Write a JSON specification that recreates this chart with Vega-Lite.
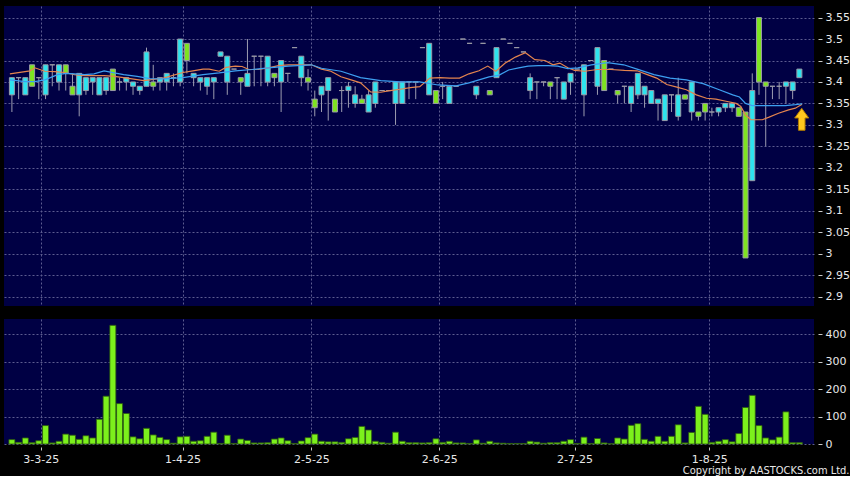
{
  "$schema": "https://vega.github.io/schema/vega-lite/v6.json",
  "background": "#000000",
  "padding": {"left": 4, "top": 6, "right": 0, "bottom": 0},
  "config": {
    "view": {"fill": "#000044", "stroke": null},
    "axis": {"labelColor": "#e8e8e8", "labelFont": "DejaVu Sans", "labelFontSize": 11, "gridColor": "#5c5c90", "gridDash": [2, 2], "gridWidth": 1, "domain": false, "tickColor": "#c8c8c8", "title": null, "labelOverlap": false},
    "concat": {"spacing": 13}
  },
  "title": {"text": "Copyright by AASTOCKS.com Ltd.", "orient": "bottom", "anchor": "end", "frame": "bounds", "color": "#e8e8e8", "fontSize": 11, "fontWeight": "normal", "font": "DejaVu Sans Condensed, Liberation Sans Narrow, DejaVu Sans", "offset": 1},
  "datasets": {
    "k": [
      {"i":0,"o":3.37,"h":3.41,"l":3.33,"c":3.41,"v":16},
      {"i":1,"o":3.41,"h":3.41,"l":3.36,"c":3.41,"v":6},
      {"i":2,"o":3.37,"h":3.41,"l":3.37,"c":3.41,"v":22},
      {"i":3,"o":3.44,"h":3.44,"l":3.39,"c":3.39,"v":5},
      {"i":4,"o":3.41,"h":3.41,"l":3.36,"c":3.41,"v":12},
      {"i":5,"o":3.37,"h":3.44,"l":3.36,"c":3.44,"v":67},
      {"i":6,"o":3.44,"h":3.44,"l":3.39,"c":3.44,"v":4},
      {"i":7,"o":3.40,"h":3.44,"l":3.38,"c":3.44,"v":10},
      {"i":8,"o":3.44,"h":3.44,"l":3.38,"c":3.42,"v":36},
      {"i":9,"o":3.39,"h":3.42,"l":3.37,"c":3.37,"v":32},
      {"i":10,"o":3.37,"h":3.42,"l":3.32,"c":3.42,"v":17},
      {"i":11,"o":3.38,"h":3.41,"l":3.37,"c":3.41,"v":30},
      {"i":12,"o":3.40,"h":3.41,"l":3.37,"c":3.41,"v":22},
      {"i":13,"o":3.37,"h":3.41,"l":3.37,"c":3.41,"v":90},
      {"i":14,"o":3.38,"h":3.41,"l":3.37,"c":3.41,"v":174},
      {"i":15,"o":3.43,"h":3.43,"l":3.38,"c":3.38,"v":432},
      {"i":16,"o":3.40,"h":3.41,"l":3.38,"c":3.40,"v":147},
      {"i":17,"o":3.40,"h":3.41,"l":3.38,"c":3.41,"v":111},
      {"i":18,"o":3.39,"h":3.40,"l":3.37,"c":3.40,"v":26},
      {"i":19,"o":3.38,"h":3.39,"l":3.37,"c":3.39,"v":19},
      {"i":20,"o":3.39,"h":3.48,"l":3.39,"c":3.47,"v":57},
      {"i":21,"o":3.40,"h":3.44,"l":3.38,"c":3.39,"v":33},
      {"i":22,"o":3.40,"h":3.41,"l":3.38,"c":3.41,"v":24},
      {"i":23,"o":3.40,"h":3.42,"l":3.38,"c":3.42,"v":16},
      {"i":24,"o":3.41,"h":3.42,"l":3.39,"c":3.41,"v":3},
      {"i":25,"o":3.40,"h":3.50,"l":3.39,"c":3.50,"v":26},
      {"i":26,"o":3.49,"h":3.49,"l":3.42,"c":3.45,"v":28},
      {"i":27,"o":3.41,"h":3.42,"l":3.39,"c":3.42,"v":10},
      {"i":28,"o":3.40,"h":3.41,"l":3.38,"c":3.41,"v":12},
      {"i":29,"o":3.39,"h":3.41,"l":3.37,"c":3.41,"v":28},
      {"i":30,"o":3.40,"h":3.41,"l":3.36,"c":3.41,"v":43},
      {"i":31,"o":3.46,"h":3.47,"l":3.46,"c":3.47,"v":2},
      {"i":32,"o":3.40,"h":3.46,"l":3.37,"c":3.46,"v":32},
      {"i":33,"o":3.43,"h":3.43,"l":3.43,"c":3.43,"v":2},
      {"i":34,"o":3.41,"h":3.41,"l":3.37,"c":3.40,"v":18},
      {"i":35,"o":3.39,"h":3.50,"l":3.39,"c":3.42,"v":13},
      {"i":36,"o":3.46,"h":3.46,"l":3.39,"c":3.46,"v":4},
      {"i":37,"o":3.46,"h":3.46,"l":3.39,"c":3.46,"v":4},
      {"i":38,"o":3.40,"h":3.46,"l":3.39,"c":3.46,"v":5},
      {"i":39,"o":3.42,"h":3.42,"l":3.39,"c":3.41,"v":18},
      {"i":40,"o":3.40,"h":3.45,"l":3.33,"c":3.45,"v":22},
      {"i":41,"o":3.42,"h":3.42,"l":3.40,"c":3.42,"v":12},
      {"i":42,"o":3.48,"h":3.48,"l":3.48,"c":3.48,"v":2},
      {"i":43,"o":3.41,"h":3.46,"l":3.39,"c":3.46,"v":11},
      {"i":44,"o":3.41,"h":3.43,"l":3.38,"c":3.40,"v":23},
      {"i":45,"o":3.36,"h":3.38,"l":3.32,"c":3.34,"v":36},
      {"i":46,"o":3.37,"h":3.39,"l":3.33,"c":3.39,"v":10},
      {"i":47,"o":3.38,"h":3.41,"l":3.31,"c":3.41,"v":8},
      {"i":48,"o":3.36,"h":3.36,"l":3.33,"c":3.33,"v":8},
      {"i":49,"o":3.38,"h":3.39,"l":3.33,"c":3.38,"v":6},
      {"i":50,"o":3.38,"h":3.40,"l":3.34,"c":3.39,"v":19},
      {"i":51,"o":3.35,"h":3.39,"l":3.34,"c":3.37,"v":24},
      {"i":52,"o":3.36,"h":3.37,"l":3.35,"c":3.35,"v":64},
      {"i":53,"o":3.33,"h":3.38,"l":3.33,"c":3.37,"v":51},
      {"i":54,"o":3.35,"h":3.40,"l":3.34,"c":3.40,"v":10},
      {"i":55,"o":3.38,"h":3.38,"l":3.38,"c":3.38,"v":6},
      {"i":56,"o":3.38,"h":3.38,"l":3.38,"c":3.38,"v":3},
      {"i":57,"o":3.35,"h":3.40,"l":3.30,"c":3.40,"v":43},
      {"i":58,"o":3.35,"h":3.40,"l":3.35,"c":3.40,"v":10},
      {"i":59,"o":3.40,"h":3.40,"l":3.36,"c":3.40,"v":5},
      {"i":60,"o":3.40,"h":3.40,"l":3.36,"c":3.40,"v":5},
      {"i":61,"o":3.48,"h":3.48,"l":3.48,"c":3.48,"v":4},
      {"i":62,"o":3.37,"h":3.49,"l":3.37,"c":3.49,"v":5},
      {"i":63,"o":3.38,"h":3.38,"l":3.35,"c":3.35,"v":19},
      {"i":64,"o":3.39,"h":3.40,"l":3.36,"c":3.39,"v":6},
      {"i":65,"o":3.35,"h":3.39,"l":3.35,"c":3.39,"v":10},
      {"i":66,"o":3.39,"h":3.39,"l":3.39,"c":3.39,"v":4},
      {"i":67,"o":3.50,"h":3.50,"l":3.50,"c":3.50,"v":4},
      {"i":68,"o":3.49,"h":3.49,"l":3.49,"c":3.49,"v":2},
      {"i":69,"o":3.37,"h":3.39,"l":3.36,"c":3.39,"v":15},
      {"i":70,"o":3.49,"h":3.49,"l":3.49,"c":3.49,"v":3},
      {"i":71,"o":3.38,"h":3.38,"l":3.37,"c":3.37,"v":10},
      {"i":72,"o":3.41,"h":3.48,"l":3.41,"c":3.48,"v":4},
      {"i":73,"o":3.50,"h":3.50,"l":3.50,"c":3.50,"v":3},
      {"i":74,"o":3.49,"h":3.49,"l":3.49,"c":3.49,"v":2},
      {"i":75,"o":3.48,"h":3.48,"l":3.48,"c":3.48,"v":2},
      {"i":76,"o":3.47,"h":3.47,"l":3.47,"c":3.47,"v":2},
      {"i":77,"o":3.38,"h":3.42,"l":3.36,"c":3.41,"v":10},
      {"i":78,"o":3.40,"h":3.40,"l":3.36,"c":3.40,"v":7},
      {"i":79,"o":3.40,"h":3.40,"l":3.39,"c":3.40,"v":3},
      {"i":80,"o":3.40,"h":3.40,"l":3.36,"c":3.39,"v":5},
      {"i":81,"o":3.41,"h":3.41,"l":3.36,"c":3.41,"v":5},
      {"i":82,"o":3.36,"h":3.40,"l":3.36,"c":3.40,"v":10},
      {"i":83,"o":3.40,"h":3.42,"l":3.37,"c":3.42,"v":16},
      {"i":84,"o":3.43,"h":3.43,"l":3.43,"c":3.43,"v":2},
      {"i":85,"o":3.37,"h":3.44,"l":3.32,"c":3.44,"v":25},
      {"i":86,"o":3.45,"h":3.45,"l":3.45,"c":3.45,"v":2},
      {"i":87,"o":3.39,"h":3.48,"l":3.37,"c":3.48,"v":20},
      {"i":88,"o":3.45,"h":3.45,"l":3.38,"c":3.38,"v":4},
      {"i":89,"o":3.43,"h":3.43,"l":3.43,"c":3.43,"v":1},
      {"i":90,"o":3.38,"h":3.38,"l":3.35,"c":3.37,"v":22},
      {"i":91,"o":3.39,"h":3.39,"l":3.35,"c":3.39,"v":18},
      {"i":92,"o":3.35,"h":3.39,"l":3.33,"c":3.39,"v":68},
      {"i":93,"o":3.37,"h":3.42,"l":3.36,"c":3.42,"v":74},
      {"i":94,"o":3.37,"h":3.39,"l":3.34,"c":3.39,"v":17},
      {"i":95,"o":3.35,"h":3.38,"l":3.35,"c":3.38,"v":10},
      {"i":96,"o":3.35,"h":3.36,"l":3.31,"c":3.36,"v":28},
      {"i":97,"o":3.31,"h":3.37,"l":3.31,"c":3.37,"v":10},
      {"i":98,"o":3.37,"h":3.37,"l":3.33,"c":3.37,"v":28},
      {"i":99,"o":3.32,"h":3.41,"l":3.31,"c":3.37,"v":70},
      {"i":100,"o":3.37,"h":3.37,"l":3.36,"c":3.36,"v":4},
      {"i":101,"o":3.33,"h":3.40,"l":3.31,"c":3.40,"v":42},
      {"i":102,"o":3.33,"h":3.33,"l":3.31,"c":3.32,"v":137},
      {"i":103,"o":3.35,"h":3.35,"l":3.31,"c":3.33,"v":108},
      {"i":104,"o":3.33,"h":3.34,"l":3.32,"c":3.33,"v":6},
      {"i":105,"o":3.33,"h":3.34,"l":3.32,"c":3.34,"v":10},
      {"i":106,"o":3.34,"h":3.35,"l":3.33,"c":3.35,"v":16},
      {"i":107,"o":3.34,"h":3.35,"l":3.33,"c":3.35,"v":8},
      {"i":108,"o":3.34,"h":3.34,"l":3.32,"c":3.32,"v":38},
      {"i":109,"o":3.33,"h":3.33,"l":2.99,"c":2.99,"v":133},
      {"i":110,"o":3.17,"h":3.42,"l":3.17,"c":3.38,"v":177},
      {"i":111,"o":3.55,"h":3.55,"l":3.37,"c":3.40,"v":67},
      {"i":112,"o":3.40,"h":3.40,"l":3.25,"c":3.39,"v":22},
      {"i":113,"o":3.39,"h":3.39,"l":3.36,"c":3.39,"v":15},
      {"i":114,"o":3.39,"h":3.40,"l":3.36,"c":3.39,"v":25},
      {"i":115,"o":3.39,"h":3.40,"l":3.35,"c":3.40,"v":117},
      {"i":116,"o":3.38,"h":3.40,"l":3.36,"c":3.40,"v":5},
      {"i":117,"o":3.41,"h":3.43,"l":3.41,"c":3.43,"v":5}
    ],
    "ma": [
      {"i":-0.3,"p":3.419,"s":"a"},{"i":2.7,"p":3.426,"s":"a"},{"i":3.4,"p":3.433,"s":"a"},{"i":4.9,"p":3.425,"s":"a"},{"i":6.4,"p":3.424,"s":"a"},{"i":7.8,"p":3.422,"s":"a"},{"i":9.3,"p":3.417,"s":"a"},{"i":10.8,"p":3.415,"s":"a"},{"i":13.7,"p":3.415,"s":"a"},{"i":15.2,"p":3.413,"s":"a"},{"i":16.6,"p":3.41,"s":"a"},{"i":19.6,"p":3.403,"s":"a"},{"i":21.0,"p":3.406,"s":"a"},{"i":22.5,"p":3.409,"s":"a"},{"i":25.4,"p":3.422,"s":"a"},{"i":26.9,"p":3.426,"s":"a"},{"i":28.4,"p":3.43,"s":"a"},{"i":29.3,"p":3.43,"s":"a"},{"i":30.8,"p":3.425,"s":"a"},{"i":31.8,"p":3.434,"s":"a"},{"i":33.2,"p":3.437,"s":"a"},{"i":34.2,"p":3.436,"s":"a"},{"i":35.2,"p":3.429,"s":"a"},{"i":36.6,"p":3.429,"s":"a"},{"i":38.1,"p":3.433,"s":"a"},{"i":39.6,"p":3.438,"s":"a"},{"i":41.1,"p":3.44,"s":"a"},{"i":43.0,"p":3.44,"s":"a"},{"i":44.5,"p":3.44,"s":"a"},{"i":46.0,"p":3.43,"s":"a"},{"i":47.4,"p":3.425,"s":"a"},{"i":48.9,"p":3.412,"s":"a"},{"i":50.4,"p":3.405,"s":"a"},{"i":51.8,"p":3.398,"s":"a"},{"i":53.3,"p":3.377,"s":"a"},{"i":54.8,"p":3.376,"s":"a"},{"i":56.2,"p":3.38,"s":"a"},{"i":57.7,"p":3.383,"s":"a"},{"i":59.2,"p":3.387,"s":"a"},{"i":60.6,"p":3.389,"s":"a"},{"i":62.1,"p":3.409,"s":"a"},{"i":63.6,"p":3.41,"s":"a"},{"i":65.0,"p":3.409,"s":"a"},{"i":66.5,"p":3.409,"s":"a"},{"i":67.9,"p":3.419,"s":"a"},{"i":69.4,"p":3.426,"s":"a"},{"i":70.7,"p":3.437,"s":"a"},{"i":71.9,"p":3.425,"s":"a"},{"i":73.3,"p":3.444,"s":"a"},{"i":74.8,"p":3.458,"s":"a"},{"i":76.3,"p":3.468,"s":"a"},{"i":77.7,"p":3.452,"s":"a"},{"i":79.2,"p":3.45,"s":"a"},{"i":80.4,"p":3.44,"s":"a"},{"i":81.4,"p":3.444,"s":"a"},{"i":82.6,"p":3.433,"s":"a"},{"i":83.6,"p":3.427,"s":"a"},{"i":85.1,"p":3.425,"s":"a"},{"i":87.0,"p":3.429,"s":"a"},{"i":89.0,"p":3.429,"s":"a"},{"i":91.0,"p":3.427,"s":"a"},{"i":92.9,"p":3.426,"s":"a"},{"i":94.4,"p":3.417,"s":"a"},{"i":95.8,"p":3.409,"s":"a"},{"i":97.3,"p":3.394,"s":"a"},{"i":98.8,"p":3.388,"s":"a"},{"i":100.2,"p":3.382,"s":"a"},{"i":101.7,"p":3.37,"s":"a"},{"i":103.2,"p":3.362,"s":"a"},{"i":104.6,"p":3.36,"s":"a"},{"i":106.1,"p":3.355,"s":"a"},{"i":107.6,"p":3.35,"s":"a"},{"i":108.3,"p":3.343,"s":"a"},{"i":109.0,"p":3.323,"s":"a"},{"i":109.8,"p":3.312,"s":"a"},{"i":111.5,"p":3.312,"s":"a"},{"i":112.5,"p":3.318,"s":"a"},{"i":113.9,"p":3.327,"s":"a"},{"i":115.4,"p":3.335,"s":"a"},{"i":116.4,"p":3.339,"s":"a"},{"i":117.4,"p":3.348,"s":"a"},
      {"i":-0.3,"p":3.405,"s":"b"},{"i":2.0,"p":3.401,"s":"b"},{"i":3.4,"p":3.401,"s":"b"},{"i":4.9,"p":3.405,"s":"b"},{"i":6.8,"p":3.417,"s":"b"},{"i":8.1,"p":3.42,"s":"b"},{"i":9.3,"p":3.419,"s":"b"},{"i":10.8,"p":3.417,"s":"b"},{"i":12.2,"p":3.419,"s":"b"},{"i":13.7,"p":3.426,"s":"b"},{"i":15.2,"p":3.421,"s":"b"},{"i":16.6,"p":3.417,"s":"b"},{"i":18.6,"p":3.413,"s":"b"},{"i":20.5,"p":3.408,"s":"b"},{"i":22.5,"p":3.407,"s":"b"},{"i":25.4,"p":3.41,"s":"b"},{"i":28.4,"p":3.417,"s":"b"},{"i":30.8,"p":3.421,"s":"b"},{"i":33.2,"p":3.426,"s":"b"},{"i":35.7,"p":3.429,"s":"b"},{"i":38.1,"p":3.433,"s":"b"},{"i":41.1,"p":3.437,"s":"b"},{"i":44.5,"p":3.44,"s":"b"},{"i":46.0,"p":3.432,"s":"b"},{"i":48.9,"p":3.425,"s":"b"},{"i":51.8,"p":3.41,"s":"b"},{"i":54.8,"p":3.403,"s":"b"},{"i":57.7,"p":3.40,"s":"b"},{"i":60.6,"p":3.40,"s":"b"},{"i":63.3,"p":3.393,"s":"b"},{"i":66.0,"p":3.391,"s":"b"},{"i":67.9,"p":3.398,"s":"b"},{"i":69.4,"p":3.405,"s":"b"},{"i":70.9,"p":3.412,"s":"b"},{"i":72.4,"p":3.416,"s":"b"},{"i":73.8,"p":3.428,"s":"b"},{"i":75.3,"p":3.433,"s":"b"},{"i":76.7,"p":3.437,"s":"b"},{"i":78.2,"p":3.438,"s":"b"},{"i":79.7,"p":3.438,"s":"b"},{"i":81.1,"p":3.437,"s":"b"},{"i":82.6,"p":3.431,"s":"b"},{"i":84.1,"p":3.433,"s":"b"},{"i":86.1,"p":3.44,"s":"b"},{"i":88.5,"p":3.445,"s":"b"},{"i":90.9,"p":3.44,"s":"b"},{"i":92.9,"p":3.43,"s":"b"},{"i":95.4,"p":3.417,"s":"b"},{"i":97.8,"p":3.409,"s":"b"},{"i":100.2,"p":3.405,"s":"b"},{"i":102.7,"p":3.396,"s":"b"},{"i":105.1,"p":3.382,"s":"b"},{"i":107.1,"p":3.37,"s":"b"},{"i":108.1,"p":3.365,"s":"b"},{"i":109.0,"p":3.35,"s":"b"},{"i":110.0,"p":3.345,"s":"b"},{"i":112.5,"p":3.345,"s":"b"},{"i":114.9,"p":3.345,"s":"b"},{"i":116.4,"p":3.347,"s":"b"},{"i":117.4,"p":3.349,"s":"b"}
    ],
    "marker": [{"i": 117.35, "p": 3.313}]
  },
  "vconcat": [
    {
      "width": 810,
      "height": 300,
      "layer": [
        {
          "data": {"name": "k"},
          "mark": {"type": "rule", "color": "#9c9cb0", "strokeWidth": 1, "clip": true},
          "encoding": {
            "x": {"field": "i", "type": "quantitative", "scale": {"domain": [-0.43, 118.43], "nice": false, "zero": false},
                  "axis": {"orient": "bottom", "grid": true, "labels": false, "ticks": false, "values": [4.3, 25.35, 44.5, 63.5, 83.6, 103.6]}},
            "y": {"field": "l", "type": "quantitative", "scale": {"domain": [2.878, 3.577], "nice": false, "zero": false},
                  "axis": {"orient": "right", "values": [2.9, 2.95, 3, 3.05, 3.1, 3.15, 3.2, 3.25, 3.3, 3.35, 3.4, 3.45, 3.5, 3.55], "labelExpr": "format(datum.value, '.2~f')", "offset": 4, "tickSize": 4, "labelPadding": 3, "grid": true, "labelOverlap": false, "labelSeparation": 0}},
            "y2": {"field": "h"}
          }
        },
        {
          "data": {"name": "k"},
          "mark": {"type": "bar", "width": 5, "stroke": "#9a9aa6", "strokeWidth": 1, "clip": true},
          "encoding": {
            "x": {"field": "i", "type": "quantitative", "axis": {"orient": "bottom", "grid": true, "labels": false, "ticks": false, "values": [4.3, 25.35, 44.5, 63.5, 83.6, 103.6]}},
            "y": {"field": "o", "type": "quantitative",
                  "axis": {"orient": "right", "values": [2.9, 2.95, 3, 3.05, 3.1, 3.15, 3.2, 3.25, 3.3, 3.35, 3.4, 3.45, 3.5, 3.55], "labelExpr": "format(datum.value, '.2~f')", "offset": 4, "tickSize": 4, "labelPadding": 3, "grid": true, "labelOverlap": false, "labelSeparation": 0}},
            "y2": {"field": "c"},
            "fill": {"condition": [{"test": "datum.c > datum.o", "value": "#2ee3ee"}, {"test": "datum.c < datum.o", "value": "#7ee321"}], "value": "#9a9aa6"}
          }
        },
        {
          "data": {"name": "ma"},
          "mark": {"type": "line", "strokeWidth": 1.2, "clip": true, "interpolate": "linear"},
          "encoding": {
            "x": {"field": "i", "type": "quantitative", "axis": {"orient": "bottom", "grid": true, "labels": false, "ticks": false, "values": [4.3, 25.35, 44.5, 63.5, 83.6, 103.6]}},
            "y": {"field": "p", "type": "quantitative",
                  "axis": {"orient": "right", "values": [2.9, 2.95, 3, 3.05, 3.1, 3.15, 3.2, 3.25, 3.3, 3.35, 3.4, 3.45, 3.5, 3.55], "labelExpr": "format(datum.value, '.2~f')", "offset": 4, "tickSize": 4, "labelPadding": 3, "grid": true, "labelOverlap": false, "labelSeparation": 0}},
            "color": {"field": "s", "type": "nominal", "scale": {"domain": ["a", "b"], "range": ["#e4844e", "#3d9ff0"]}, "legend": null}
          }
        },
        {
          "data": {"name": "marker"},
          "mark": {"type": "point", "shape": "M0,-1L0.64,-0.12L0.3,-0.12L0.3,1L-0.3,1L-0.3,-0.12L-0.64,-0.12Z", "size": 484, "filled": true, "fill": "#ffc81e", "stroke": "#b07a00", "strokeWidth": 1, "opacity": 1},
          "encoding": {
            "x": {"field": "i", "type": "quantitative", "axis": {"orient": "bottom", "grid": true, "labels": false, "ticks": false, "values": [4.3, 25.35, 44.5, 63.5, 83.6, 103.6]}},
            "y": {"field": "p", "type": "quantitative",
                  "axis": {"orient": "right", "values": [2.9, 2.95, 3, 3.05, 3.1, 3.15, 3.2, 3.25, 3.3, 3.35, 3.4, 3.45, 3.5, 3.55], "labelExpr": "format(datum.value, '.2~f')", "offset": 4, "tickSize": 4, "labelPadding": 3, "grid": true, "labelOverlap": false, "labelSeparation": 0}}
          }
        }
      ]
    },
    {
      "width": 810,
      "height": 125,
      "data": {"name": "k"},
      "mark": {"type": "bar", "width": 6, "fill": "#7cf01c", "stroke": "#2d5a10", "strokeWidth": 0.8},
      "encoding": {
        "x": {"field": "i", "type": "quantitative", "scale": {"domain": [-0.43, 118.43], "nice": false, "zero": false},
              "axis": {"orient": "bottom", "grid": true, "values": [4.3, 25.35, 44.5, 63.5, 83.6, 103.6], "offset": 3, "tickSize": 3, "labelPadding": 3, "labelFlush": false, "labelOverlap": false,
                       "labelExpr": "datum.value < 10 ? '3-3-25' : datum.value < 30 ? '1-4-25' : datum.value < 50 ? '2-5-25' : datum.value < 70 ? '2-6-25' : datum.value < 90 ? '2-7-25' : '1-8-25'"}},
        "y": {"field": "v", "type": "quantitative", "scale": {"domain": [0, 455], "nice": false},
              "axis": {"orient": "right", "values": [0, 100, 200, 300, 400], "offset": 4, "tickSize": 4, "labelPadding": 3, "grid": true, "labelOverlap": false}}
      }
    }
  ]
}
